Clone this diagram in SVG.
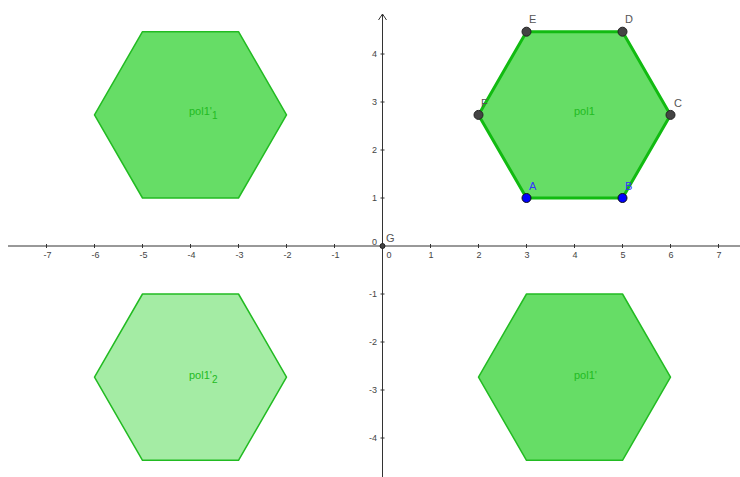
<svg xmlns="http://www.w3.org/2000/svg" width="740" height="477" viewBox="0 0 740 477">
<defs>
<style>
.ax{stroke:#333;stroke-width:1;fill:none}
.tk{stroke:#333;stroke-width:1}
.tl{font-family:"Liberation Sans",Arial,sans-serif;font-size:9px;fill:#444}
.tlx{text-anchor:middle}
.tly{text-anchor:end}
.hx{fill:#66dd66;stroke:#22bb22;stroke-width:1.5;stroke-linejoin:round}
.hxl{fill:#a4eca4;stroke:#22bb22;stroke-width:1.5;stroke-linejoin:round}
.hxm{fill:#66dd66;stroke:#11bb11;stroke-width:3;stroke-linejoin:round}
.pl{font-family:"Liberation Sans",Arial,sans-serif;font-size:11px;fill:#22bb22}
.sub{font-size:10px}
.pg{fill:#444;stroke:#222;stroke-width:1}
.pb{fill:#0000ff;stroke:#111;stroke-width:1}
.lg{font-family:"Liberation Sans",Arial,sans-serif;font-size:11px;fill:#555}
.lb{font-family:"Liberation Sans",Arial,sans-serif;font-size:11px;fill:#3333ff}
</style>
</defs>
<rect width="740" height="477" fill="#fff"/>
<g id="axes">
<line class="ax" x1="8" y1="246" x2="740" y2="246"/>
<line class="ax" x1="382.5" y1="14" x2="382.5" y2="477"/>
<path class="ax" d="M378.5 20 L382.5 14 L386.5 20"/>
<g class="tk">
<line x1="46.5" y1="244" x2="46.5" y2="248"/>
<line x1="94.5" y1="244" x2="94.5" y2="248"/>
<line x1="142.5" y1="244" x2="142.5" y2="248"/>
<line x1="190.5" y1="244" x2="190.5" y2="248"/>
<line x1="238.5" y1="244" x2="238.5" y2="248"/>
<line x1="286.5" y1="244" x2="286.5" y2="248"/>
<line x1="334.5" y1="244" x2="334.5" y2="248"/>
<line x1="430.5" y1="244" x2="430.5" y2="248"/>
<line x1="478.5" y1="244" x2="478.5" y2="248"/>
<line x1="526.5" y1="244" x2="526.5" y2="248"/>
<line x1="574.5" y1="244" x2="574.5" y2="248"/>
<line x1="622.5" y1="244" x2="622.5" y2="248"/>
<line x1="670.5" y1="244" x2="670.5" y2="248"/>
<line x1="718.5" y1="244" x2="718.5" y2="248"/>
<line x1="380.5" y1="54" x2="384.5" y2="54"/>
<line x1="380.5" y1="102" x2="384.5" y2="102"/>
<line x1="380.5" y1="150" x2="384.5" y2="150"/>
<line x1="380.5" y1="198" x2="384.5" y2="198"/>
<line x1="380.5" y1="294" x2="384.5" y2="294"/>
<line x1="380.5" y1="342" x2="384.5" y2="342"/>
<line x1="380.5" y1="390" x2="384.5" y2="390"/>
<line x1="380.5" y1="438" x2="384.5" y2="438"/>
</g>
<g class="tl tlx">
<text x="47.5" y="258">-7</text>
<text x="95.5" y="258">-6</text>
<text x="143.5" y="258">-5</text>
<text x="191.5" y="258">-4</text>
<text x="239.5" y="258">-3</text>
<text x="287.5" y="258">-2</text>
<text x="335.5" y="258">-1</text>
<text x="389" y="258">0</text>
<text x="431" y="258">1</text>
<text x="479" y="258">2</text>
<text x="527" y="258">3</text>
<text x="575" y="258">4</text>
<text x="623" y="258">5</text>
<text x="671" y="258">6</text>
<text x="719" y="258">7</text>
</g>
<g class="tl tly">
<text x="377" y="245">0</text>
<text x="377" y="57">4</text>
<text x="377" y="105">3</text>
<text x="377" y="153">2</text>
<text x="377" y="201">1</text>
<text x="377" y="297">-1</text>
<text x="377" y="345">-2</text>
<text x="377" y="393">-3</text>
<text x="377" y="441">-4</text>
</g>
</g>
<g id="pol1_1">
<polygon class="hx" points="142.5,198 238.5,198 286.5,114.9 238.5,31.7 142.5,31.7 94.5,114.9"/>
<text class="pl" x="189" y="115">pol1'<tspan class="sub" dy="4">1</tspan></text>
</g>
<g id="pol1_2">
<polygon class="hxl" points="142.5,294 238.5,294 286.5,377.1 238.5,460.3 142.5,460.3 94.5,377.1"/>
<text class="pl" x="189" y="379">pol1'<tspan class="sub" dy="4">2</tspan></text>
</g>
<g id="pol1p">
<polygon class="hx" points="526.5,294 622.5,294 670.5,377.1 622.5,460.3 526.5,460.3 478.5,377.1"/>
<text class="pl" x="574" y="379">pol1'</text>
</g>
<g id="pol1">
<polygon class="hxm" points="526.5,198 622.5,198 670.5,114.9 622.5,31.7 526.5,31.7 478.5,114.9"/>
<text class="pl" x="574" y="115">pol1</text>
</g>
<g id="G">
<circle class="pg" cx="382.5" cy="246" r="2.5"/>
<text class="lg" x="386" y="242">G</text>
</g>
<g id="E"><circle class="pg" cx="526.5" cy="31.7" r="4.5"/><text class="lg" x="529" y="23">E</text></g>
<g id="D"><circle class="pg" cx="622.5" cy="31.7" r="4.5"/><text class="lg" x="625" y="23">D</text></g>
<g id="C"><circle class="pg" cx="670.5" cy="114.9" r="4.5"/><text class="lg" x="674" y="107">C</text></g>
<g id="F"><circle class="pg" cx="478.5" cy="114.9" r="4.5"/><text class="lg" x="481" y="107">F</text></g>
<g id="A"><circle class="pb" cx="526.5" cy="198" r="4.5"/><text class="lb" x="529" y="190">A</text></g>
<g id="B"><circle class="pb" cx="622.5" cy="198" r="4.5"/><text class="lb" x="625" y="190">B</text></g>
</svg>
